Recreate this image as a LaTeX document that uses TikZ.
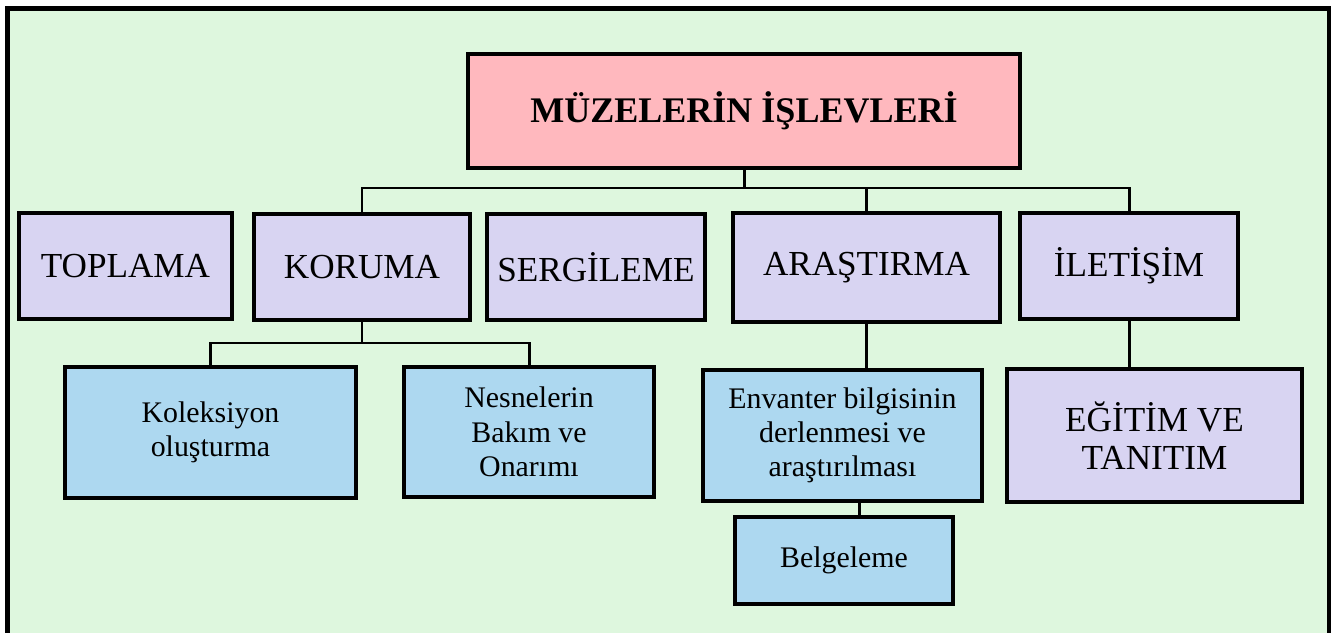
\documentclass[tikz,border=0pt]{standalone}
\usepackage{fontspec}
\setmainfont{Liberation Serif}
\usepackage{tikz}
\usetikzlibrary{positioning}
\usepackage{xcolor}
\definecolor{zemin}{RGB}{222,247,222}
\definecolor{pembe}{RGB}{255,184,190}
\definecolor{lila}{RGB}{216,212,242}
\definecolor{mavi}{RGB}{173,216,240}

\begin{document}
\begin{tikzpicture}[
    kutu/.style={draw, rectangle, line width=2pt, align=center, inner sep=2pt},
    anakutu/.style={kutu, fill=lila, font=\fontsize{20}{23}\selectfont},
    altkutu/.style={kutu, fill=mavi, font=\fontsize{17}{19.5}\selectfont},
    bag/.style={line width=1.7pt}]
            % Museum functions chart
            \useasboundingbox (0,0) rectangle (26.7,12.64);
            \fill[zemin] (0.15,-0.2) rectangle (26.58,12.47);
            \draw[line width=2.4pt] (0.15,-0.2) |- (26.58,12.47) -- (26.58,-0.2);

            \node[kutu, fill=pembe, minimum width=11.04cm, minimum height=2.28cm, font=\bfseries\fontsize{20.5}{24}\selectfont] (title) at (14.88,10.42) {MÜZELERİN İŞLEVLERİ};

            \node[anakutu, minimum width=4.26cm, minimum height=2.12cm] (toplama) at (2.51,7.32) {TOPLAMA};
            \node[anakutu, minimum width=4.32cm, minimum height=2.12cm] (koruma) at (7.24,7.30) {KORUMA};
            \node[anakutu, minimum width=4.36cm, minimum height=2.12cm] (sergileme) at (11.92,7.30) {SERGİLEME};
            \node[anakutu, minimum width=5.34cm, minimum height=2.18cm] (arastirma) at (17.33,7.29) {ARAŞTIRMA};
            \node[anakutu, minimum width=4.36cm, minimum height=2.12cm] (iletisim) at (22.58,7.32) {İLETİŞİM};

            \node[altkutu, minimum width=5.82cm, minimum height=2.62cm] (koleksiyon) at (4.21,3.99) {Koleksiyon\\oluşturma};
            \node[altkutu, minimum width=5.0cm, minimum height=2.6cm] (bakim) at (10.58,4.00) {Nesnelerin\\Bakım ve\\Onarımı};
            \node[altkutu, minimum width=5.58cm, minimum height=2.62cm] (envanter) at (16.85,3.93) {Envanter bilgisinin\\derlenmesi ve\\araştırılması};
            \node[altkutu, minimum width=4.36cm, minimum height=1.74cm] (belgeleme) at (16.88,1.43) {Belgeleme};
            \node[anakutu, minimum width=5.9cm, minimum height=2.66cm, font=\fontsize{20}{22}\selectfont] (egitim) at (23.09,3.93) {EĞİTİM VE\\TANITIM};

            \coordinate (bar) at (0,8.88);
            \coordinate (korbar) at (0,5.78);

            \draw[bag] (title.south) -- (title.south |- bar);
            \draw[bag] (koruma.north) -- (koruma.north |- bar) -- (iletisim.north |- bar) -- (iletisim.north);
            \draw[bag] (arastirma.north) -- (arastirma.north |- bar);
            \draw[bag] (koruma.south) -- (koruma.south |- korbar);
            \draw[bag] (koleksiyon.north) -- (koleksiyon.north |- korbar) -- (bakim.north |- korbar) -- (bakim.north);
            \draw[bag] (arastirma.south) -- (arastirma.south |- envanter.north);
            \draw[bag] ([xshift=0.3cm]belgeleme.north) -- ([xshift=0.3cm]belgeleme.north |- envanter.south);
            \draw[bag] (iletisim.south) -- (iletisim.south |- egitim.north);
        \end{tikzpicture}
\end{document}
